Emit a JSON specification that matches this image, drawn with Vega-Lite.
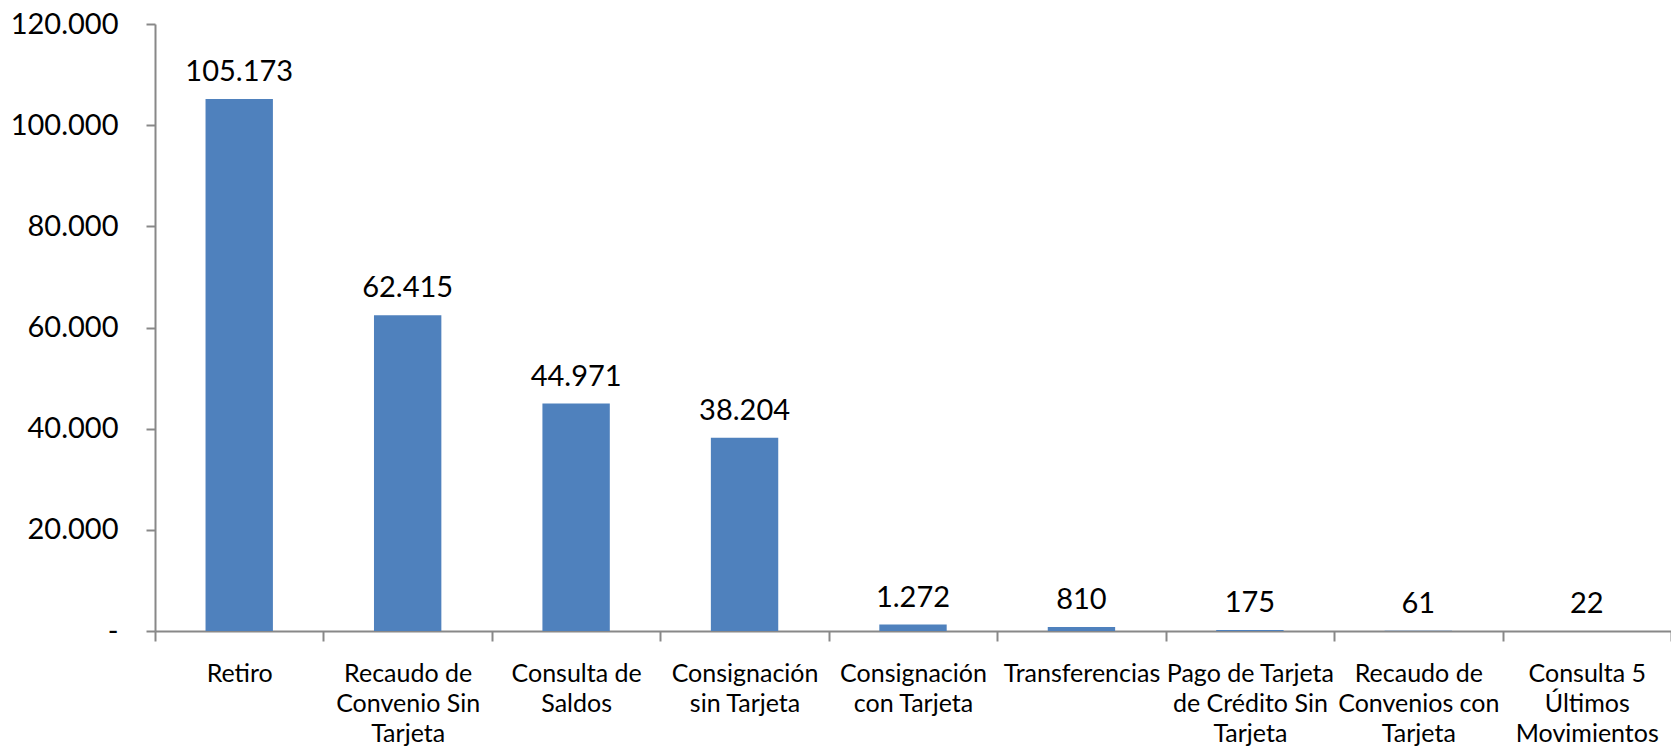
{
  "$schema": "https://vega.github.io/schema/vega-lite/v6.json",
  "width": 1516,
  "height": 607,
  "autosize": {"type": "none"},
  "padding": {"left": 155, "top": 24, "right": 0, "bottom": 121},
  "background": "white",
  "config": {
    "view": {"stroke": null},
    "font": "Lato",
    "locale": {"number": {"decimal": ",", "thousands": ".", "grouping": [3], "currency": ["$", ""]}}
  },
  "data": {
    "values": [
      {"operacion": "Retiro", "valor": 105173},
      {"operacion": "Recaudo de Convenio Sin Tarjeta", "valor": 62415},
      {"operacion": "Consulta de Saldos", "valor": 44971},
      {"operacion": "Consignación sin Tarjeta", "valor": 38204},
      {"operacion": "Consignación con Tarjeta", "valor": 1272},
      {"operacion": "Transferencias", "valor": 810},
      {"operacion": "Pago de Tarjeta de Crédito Sin Tarjeta", "valor": 175},
      {"operacion": "Recaudo de Convenios con Tarjeta", "valor": 61},
      {"operacion": "Consulta 5 Últimos Movimientos", "valor": 22}
    ]
  },
  "encoding": {
    "x": {
      "field": "operacion",
      "type": "nominal",
      "sort": null,
      "scale": {"paddingInner": 0, "paddingOuter": 0},
      "axis": {
        "title": null,
        "labelAngle": 0,
        "labelFont": "Lato",
        "labelFontSize": 25,
        "labelColor": "#000000",
        "labelLineHeight": 30,
        "labelPadding": 20,
        "labelBaseline": "top",
        "labelLimit": 0,
        "domainColor": "#888888",
        "domainWidth": 2,
        "tickColor": "#888888",
        "tickWidth": 2,
        "tickSize": 10,
        "tickBand": "extent",
        "labelExpr": "split({'Retiro':'Retiro','Recaudo de Convenio Sin Tarjeta':'Recaudo de|Convenio Sin|Tarjeta','Consulta de Saldos':'Consulta de|Saldos','Consignación sin Tarjeta':'Consignación|sin Tarjeta','Consignación con Tarjeta':'Consignación|con Tarjeta','Transferencias':'Transferencias','Pago de Tarjeta de Crédito Sin Tarjeta':'Pago de Tarjeta|de Crédito Sin|Tarjeta','Recaudo de Convenios con Tarjeta':'Recaudo de|Convenios con|Tarjeta','Consulta 5 Últimos Movimientos':'Consulta 5|Últimos|Movimientos'}[datum.label] || '', '|')"
      }
    },
    "y": {
      "field": "valor",
      "type": "quantitative",
      "scale": {"domain": [0, 120000], "nice": false},
      "axis": {
        "title": null,
        "values": [0, 20000, 40000, 60000, 80000, 100000, 120000],
        "grid": false,
        "labelFont": "Lato",
        "labelFontSize": 29,
        "labelColor": "#000000",
        "labelPadding": 28,
        "labelExpr": "datum.value == 0 ? '-\u2007' : format(datum.value, ',d')",
        "domainColor": "#888888",
        "domainWidth": 2,
        "tickColor": "#888888",
        "tickWidth": 2,
        "tickSize": 9
      }
    }
  },
  "layer": [
    {"mark": {"type": "bar", "color": "#4F81BD", "width": {"band": 0.4}}},
    {
      "mark": {"type": "text", "baseline": "bottom", "dy": -12, "fontSize": 29, "font": "Lato", "color": "#000000"},
      "encoding": {"text": {"field": "valor", "type": "quantitative", "format": ",d"}}
    }
  ]
}
